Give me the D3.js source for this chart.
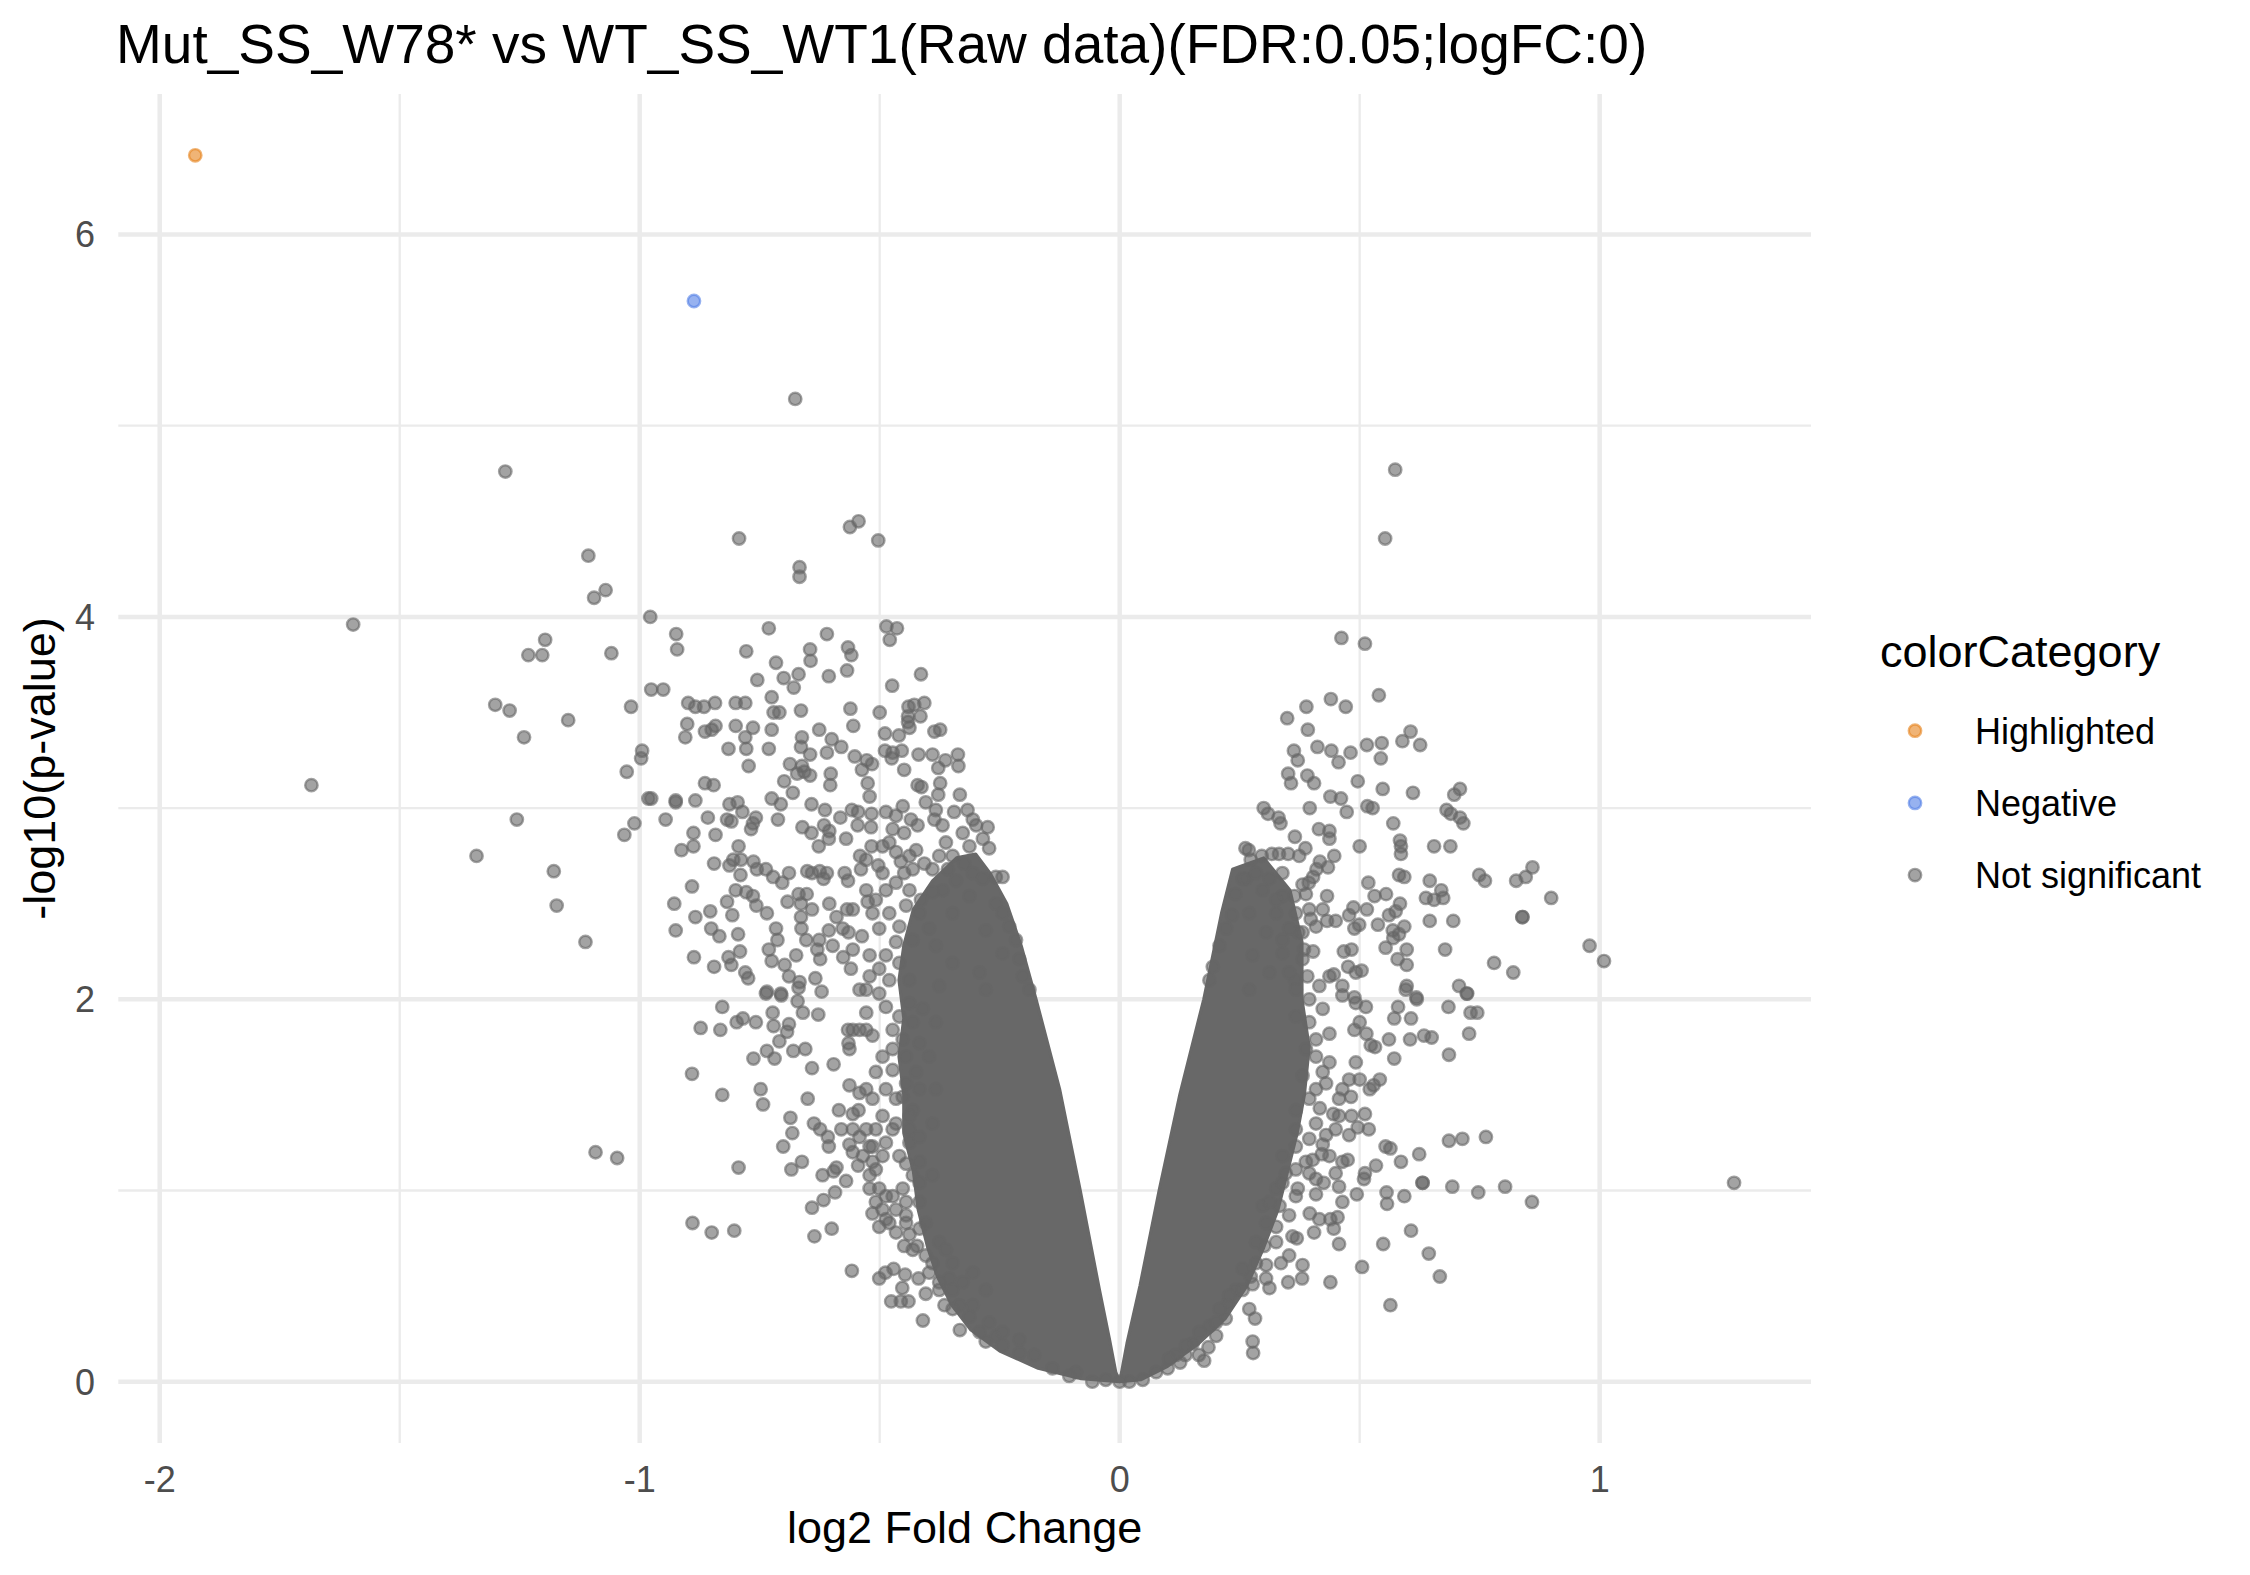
<!DOCTYPE html>
<html>
<head>
<meta charset="utf-8">
<script src="https://cdn.jsdelivr.net/npm/d3@7"></script>
<style>
    body { margin: 0; background: #fff; }
    text { font-family: "Liberation Sans", Arial, Helvetica, sans-serif; }
</style>
</head>
<body>
<svg id="chart" width="2250" height="1575"></svg>
<script>
// ---- data: [log2FC, -log10(p)] ----
const highlighted = [[-1.926, 6.414], [0.093, 0.236]];
const negative = [[-0.887, 5.652]];

// left arm of the volcano
const notSigLeft = [
    [-0.978,4.00],[-0.924,3.91],[-0.922,3.83],[-0.731,3.94],[-0.778,3.82],[-0.610,3.91],[-0.645,3.83],[-0.644,3.77],[-0.566,3.84],[-0.559,3.80],
    [-0.716,3.76],[-0.669,3.70],[-0.700,3.68],[-0.755,3.67],[-0.679,3.63],[-0.606,3.69],[-0.568,3.72],[-0.486,3.95],[-0.464,3.94],[-0.479,3.88],
    [-0.414,3.70],[-0.474,3.64],[-0.976,3.62],[-0.951,3.62],[-1.018,3.53],[-0.899,3.55],[-0.884,3.53],[-0.866,3.53],[-0.843,3.55],[-0.800,3.55],
    [-0.780,3.55],[-0.725,3.58],[-0.721,3.50],[-0.709,3.50],[-0.664,3.51],[-0.561,3.52],[-0.500,3.50],[-0.440,3.53],[-0.428,3.54],[-0.407,3.55],
    [-0.441,3.48],[-0.415,3.48],[-0.901,3.44],[-0.905,3.37],[-0.864,3.40],[-0.850,3.41],[-0.842,3.43],[-0.800,3.43],[-0.764,3.42],[-0.725,3.41],
    [-0.780,3.37],[-0.778,3.31],[-0.815,3.31],[-0.731,3.31],[-0.626,3.41],[-0.600,3.36],[-0.662,3.37],[-0.664,3.32],[-0.645,3.28],[-0.610,3.29],
    [-0.580,3.32],[-0.555,3.43],[-0.489,3.39],[-0.460,3.38],[-0.441,3.45],[-0.438,3.42],[-0.386,3.40],[-0.374,3.41],[-0.995,3.30],[-0.997,3.26],
    [-1.027,3.19],[-0.773,3.22],[-0.687,3.23],[-0.662,3.22],[-0.657,3.19],[-0.672,3.18],[-0.645,3.17],[-0.602,3.18],[-0.603,3.12],[-0.552,3.27],
    [-0.527,3.25],[-0.516,3.23],[-0.537,3.20],[-0.525,3.13],[-0.521,3.06],[-0.489,3.30],[-0.473,3.29],[-0.454,3.30],[-0.475,3.26],[-0.449,3.20],
    [-0.419,3.28],[-0.390,3.28],[-0.363,3.25],[-0.337,3.28],[-0.336,3.22],[-0.378,3.21],[-0.421,3.12],[-0.413,3.11],[-0.374,3.13],[-0.378,3.07],
    [-0.333,3.07],[-0.404,3.03],[-0.864,3.13],[-0.846,3.12],[-0.699,3.14],[-0.681,3.08],[-0.982,3.05],[-0.976,3.05],[-0.925,3.04],[-0.925,3.03],
    [-0.884,3.04],[-0.725,3.05],[-0.706,3.02],[-0.813,3.02],[-0.796,3.03],[-0.786,2.98],[-0.642,3.02],[-0.614,2.99],[-0.582,2.95],[-0.558,2.99],
    [-0.545,2.98],[-0.517,2.97],[-1.011,2.92],[-1.032,2.86],[-0.946,2.94],[-0.858,2.95],[-0.818,2.94],[-0.809,2.93],[-0.758,2.95],[-0.764,2.92],
    [-0.768,2.89],[-0.712,2.94],[-0.888,2.87],[-0.888,2.80],[-0.913,2.78],[-0.842,2.86],[-0.661,2.90],[-0.642,2.87],[-0.616,2.91],[-0.605,2.88],
    [-0.606,2.84],[-0.570,2.84],[-0.546,2.91],[-0.518,2.90],[-0.517,2.80],[-0.627,2.80],[-0.794,2.80],[-0.805,2.73],[-0.789,2.73],[-0.813,2.70],
    [-0.845,2.71],[-0.763,2.72],[-0.790,2.65],[-0.756,2.68],[-0.737,2.68],[-0.722,2.64],[-0.703,2.61],[-0.689,2.66],[-0.651,2.67],[-0.641,2.66],
    [-0.625,2.67],[-0.610,2.66],[-0.617,2.63],[-0.573,2.66],[-0.566,2.62],[-0.539,2.68],[-0.541,2.75],[-0.528,2.73],[-0.503,2.70],[-0.494,2.66],
    [-0.891,2.59],[-0.928,2.50],[-0.800,2.57],[-0.778,2.56],[-0.764,2.54],[-0.818,2.51],[-0.757,2.49],[-0.735,2.45],[-0.692,2.51],[-0.669,2.55],
    [-0.652,2.55],[-0.664,2.50],[-0.641,2.47],[-0.605,2.50],[-0.568,2.47],[-0.556,2.47],[-0.590,2.43],[-0.528,2.57],[-0.525,2.51],[-0.884,2.43],
    [-0.853,2.46],[-0.807,2.44],[-0.925,2.36],[-0.851,2.37],[-0.834,2.33],[-0.795,2.34],[-0.716,2.37],[-0.713,2.31],[-0.731,2.26],[-0.664,2.43],
    [-0.663,2.37],[-0.653,2.31],[-0.626,2.31],[-0.630,2.26],[-0.606,2.36],[-0.577,2.37],[-0.565,2.35],[-0.537,2.33],[-0.598,2.28],[-0.624,2.21],
    [-0.576,2.22],[-0.556,2.26],[-0.521,2.23],[-0.887,2.22],[-0.845,2.17],[-0.815,2.22],[-0.809,2.18],[-0.791,2.25],[-0.725,2.20],[-0.698,2.18],
    [-0.674,2.23],[-0.780,2.14],[-0.774,2.11],[-0.689,2.12],[-0.667,2.09],[-0.669,2.06],[-0.634,2.11],[-0.735,2.04],[-0.706,2.03],[-0.621,2.04],
    [-0.560,2.16],[-0.542,2.05],
    [-0.487,2.98],[-0.466,2.96],[-0.452,3.01],[-0.435,2.94],[-0.421,2.91],[-0.449,2.87],[-0.473,2.89],[-0.480,2.82],[-0.494,2.80],[-0.466,2.77],
    [-0.438,2.75],[-0.424,2.78],[-0.407,2.71],[-0.431,2.68],[-0.456,2.72],[-0.449,2.66],[-0.383,2.99],[-0.386,2.94],[-0.369,2.91],[-0.345,2.98],
    [-0.317,2.99],[-0.306,2.94],[-0.299,2.91],[-0.275,2.90],[-0.285,2.84],[-0.272,2.79],[-0.327,2.87],[-0.313,2.80],[-0.362,2.82],[-0.348,2.75],
    [-0.376,2.75],[-0.390,2.68],[-0.358,2.68],[-0.324,2.71],[-0.306,2.66],[-0.285,2.63],[-0.258,2.64],[-0.244,2.64],[-0.341,2.62],[-0.369,2.57],
    [-0.390,2.56],[-0.414,2.52],[-0.438,2.57],[-0.466,2.61],[-0.487,2.57],[-0.508,2.52],[-0.515,2.45],[-0.501,2.37],[-0.480,2.45],[-0.459,2.38],
    [-0.445,2.49],[-0.417,2.45],[-0.397,2.37],[-0.431,2.31],[-0.466,2.30],[-0.487,2.23],[-0.459,2.19],[-0.438,2.10],[-0.480,2.10],[-0.501,2.16],
    [-0.521,2.12],[-0.528,2.05],[-0.501,2.03],[-0.258,2.50],[-0.244,2.45],[-0.230,2.38],[-0.216,2.31],[-0.209,2.21],[-0.202,2.12],[-0.188,2.05],
    [-0.348,2.45],[-0.313,2.54],[-0.279,2.36],[-0.383,2.28],[-0.348,2.19],[-0.292,2.14],[-0.376,2.07],[-0.244,2.24],[-0.279,2.05],
    [-0.828,1.96],[-0.873,1.85],[-0.832,1.84],[-0.798,1.88],[-0.785,1.90],[-0.758,1.88],[-0.723,1.93],[-0.721,1.86],[-0.689,1.87],[-0.693,1.83],
    [-0.709,1.78],[-0.735,1.73],[-0.719,1.69],[-0.763,1.69],[-0.680,1.73],[-0.655,1.74],[-0.660,1.93],[-0.628,1.92],[-0.671,1.99],[-0.705,2.02],
    [-0.737,2.03],[-0.891,1.61],[-0.828,1.50],[-0.748,1.53],[-0.743,1.45],[-0.650,1.48],[-0.641,1.64],[-0.596,1.66],[-0.563,1.55],[-0.566,1.84],
    [-0.565,1.77],[-0.563,1.74],[-0.686,1.38],[-0.682,1.30],[-0.701,1.23],[-0.637,1.35],[-0.624,1.32],[-0.608,1.28],[-0.606,1.23],[-0.580,1.32],
    [-0.585,1.42],[-0.556,1.40],[-0.544,1.42],[-0.794,1.12],[-0.684,1.11],[-0.662,1.15],[-0.619,1.08],[-0.596,1.10],[-0.590,1.12],[-0.570,1.05],
    [-0.641,0.91],[-0.617,0.95],[-0.593,0.99],[-0.545,1.13],[-0.521,1.08],[-0.890,0.83],[-0.850,0.78],[-0.803,0.79],[-0.636,0.76],[-0.600,0.80],
    [-0.558,0.58],[-0.501,0.54],[-0.488,0.57],[-0.471,0.59],[-0.447,0.56],[-0.419,0.54],[-0.453,0.49],[-0.476,0.42],[-0.456,0.42],[-0.440,0.42],
    [-0.410,0.32],[-0.365,0.40],[-0.404,0.46],[-0.334,0.40],[-0.333,0.27],[-0.279,0.21],[-0.256,0.24],[-0.178,0.14],[-0.091,0.05],[-0.029,0.01],
    [-0.521,1.23],[-0.556,1.20],[-0.563,1.24],[-0.542,1.28],[-0.515,1.15],[-0.535,1.18],[-0.501,1.01],[-0.508,0.94],[-0.501,0.81],[-0.466,0.78],
    [-0.438,0.77],[-0.449,0.71],[-0.422,0.71],[-0.515,0.88],[-0.487,0.85],[-0.445,0.87],
    [-0.542,1.84],[-0.528,1.93],[-0.515,1.81],[-0.494,1.70],[-0.473,1.74],[-0.452,1.79],[-0.431,1.88],[-0.410,1.95],[-0.473,1.63],[-0.445,1.56],
    [-0.487,1.53],[-0.466,1.48],[-0.515,1.48],[-0.494,1.39],[-0.466,1.35],[-0.438,1.32],[-0.431,1.42],[-0.542,1.51],[-0.508,1.32],[-0.487,1.25],
    [-0.459,1.18],[-0.438,1.25],[-0.417,1.15],[-0.431,1.08],[-0.452,1.01],[-0.487,0.97],[-0.466,0.90],[-0.417,0.94],[-0.404,0.83],[-0.376,0.73],
    [-0.390,0.62],[-0.355,0.54],[-0.348,0.38],[-0.376,0.52],[-0.313,0.34],[-0.292,0.26],[-0.244,0.19],[-0.209,0.15],[-0.140,0.07],[-0.105,0.03],
    [-0.057,0.00],[-0.390,1.35],[-0.383,1.53],[-0.397,1.70],[-0.383,1.88],[-0.390,1.08],
    [-0.528,1.84],[-0.556,1.84],[-0.528,1.53],[-0.508,1.62],[-0.473,1.32],[-0.556,1.32],[-0.528,1.32],[-0.515,1.23],[-0.494,1.18],[-0.508,1.11],
    [-0.521,1.01],[-0.494,0.90],[-0.473,0.97],[-0.445,0.94],[-0.480,0.83],[-0.445,0.83],[-0.417,0.80],[-0.431,0.69],[-0.404,0.66],[-0.397,0.57],
    [-0.376,0.48],[-0.348,0.48],[-0.327,0.52],[-0.306,0.57],[-0.348,0.62],[-0.362,0.69],[-0.279,0.48],[-0.306,0.40],[-0.272,0.31],[-0.244,0.26],
    [-0.209,0.22],[-0.487,1.96],[-0.459,1.91],[-0.438,1.98],[-0.473,1.84],[-0.445,1.70],[-0.417,1.77],[-0.424,1.62],[-0.452,1.49],[-0.417,1.53],
    [-0.438,1.39],[-0.417,1.28],[-0.445,1.14],[-0.417,1.04]
];

// right arm of the volcano
const notSigRight = [
    [0.462,3.89],[0.511,3.86],[0.540,3.59],[0.440,3.57],[0.389,3.53],[0.471,3.53],[0.349,3.47],[0.392,3.41],[0.606,3.40],[0.589,3.35],
    [0.626,3.33],[0.546,3.34],[0.515,3.33],[0.412,3.32],[0.441,3.30],[0.481,3.29],[0.363,3.30],[0.371,3.25],[0.456,3.24],[0.544,3.26],
    [0.351,3.18],[0.391,3.17],[0.357,3.13],[0.405,3.13],[0.496,3.14],[0.548,3.10],[0.611,3.08],[0.709,3.10],[0.697,3.07],[0.439,3.06],
    [0.461,3.05],[0.300,3.00],[0.309,2.97],[0.331,2.95],[0.335,2.92],[0.396,3.00],[0.473,2.98],[0.516,3.01],[0.527,3.00],[0.681,2.99],
    [0.690,2.97],[0.709,2.95],[0.716,2.92],[0.570,2.92],[0.415,2.89],[0.437,2.88],[0.437,2.84],[0.365,2.85],[0.500,2.80],[0.584,2.83],
    [0.586,2.80],[0.586,2.76],[0.655,2.80],[0.689,2.80],[0.262,2.79],[0.269,2.78],[0.273,2.73],[0.296,2.75],[0.317,2.76],[0.332,2.76],
    [0.351,2.76],[0.374,2.75],[0.387,2.79],[0.417,2.72],[0.447,2.75],[0.434,2.69],[0.749,2.65],[0.761,2.62],[0.826,2.62],[0.846,2.64],
    [0.860,2.69],[0.899,2.53],[0.839,2.43],[0.839,2.43],[0.979,2.28],[1.009,2.20],[0.646,2.62],[0.582,2.65],[0.593,2.64],[0.518,2.61],
    [0.670,2.57],[0.674,2.53],[0.638,2.53],[0.655,2.52],[0.555,2.55],[0.531,2.54],[0.584,2.50],[0.575,2.46],[0.561,2.44],[0.646,2.41],
    [0.695,2.41],[0.538,2.39],[0.593,2.38],[0.569,2.36],[0.582,2.34],[0.570,2.32],[0.554,2.27],[0.598,2.26],[0.579,2.21],[0.598,2.18],
    [0.678,2.26],[0.780,2.19],[0.820,2.14],[0.598,2.07],[0.618,2.01],[0.707,2.07],[0.723,2.03],[0.432,2.54],[0.423,2.47],[0.395,2.47],
    [0.398,2.42],[0.409,2.38],[0.432,2.41],[0.450,2.41],[0.487,2.48],[0.515,2.47],[0.478,2.44],[0.489,2.37],[0.499,2.39],[0.372,2.35],
    [0.384,2.26],[0.403,2.25],[0.467,2.25],[0.483,2.26],[0.476,2.17],[0.492,2.14],[0.504,2.15],[0.437,2.12],[0.446,2.13],[0.464,2.07],
    [0.489,2.01],[0.464,2.02],[0.365,2.10],[0.391,2.12],[0.416,2.07],[0.381,2.21],[0.381,2.60],[0.403,2.64],[0.410,2.68],[0.394,2.61],
    [0.388,2.55],[0.364,2.54],[0.339,2.66],[0.263,2.63],[0.241,2.55],[0.234,2.44],
    [0.284,2.66],[0.312,2.63],[0.339,2.54],[0.326,2.45],[0.353,2.37],[0.339,2.24],[0.353,2.14],[0.367,2.05],[0.208,2.28],[0.222,2.37],
    [0.187,2.10],[0.194,2.17],
    [0.256,2.63],[0.298,2.57],[0.326,2.52],[0.270,2.45],[0.305,2.35],[0.339,2.31],[0.277,2.23],[0.312,2.14],[0.270,2.05],[0.367,2.45],
    [0.381,2.35],
    [0.580,1.96],[0.619,2.00],[0.596,2.05],[0.685,1.96],[0.724,2.03],[0.731,1.93],[0.745,1.93],[0.728,1.82],[0.686,1.71],[0.572,1.90],
    [0.607,1.90],[0.561,1.79],[0.605,1.79],[0.634,1.81],[0.650,1.80],[0.572,1.69],[0.513,1.96],[0.492,1.98],[0.500,1.88],
    [0.514,1.82],[0.523,1.76],[0.532,1.75],[0.492,1.67],[0.489,1.84],[0.478,1.58],[0.500,1.58],[0.542,1.58],[0.529,1.55],[0.521,1.53],
    [0.457,1.48],[0.482,1.49],[0.417,1.43],[0.445,1.40],[0.457,1.39],[0.483,1.39],[0.511,1.40],[0.496,1.33],[0.519,1.32],[0.478,1.29],
    [0.430,1.29],[0.423,1.24],[0.421,1.19],[0.686,1.26],[0.714,1.27],[0.763,1.28],[0.554,1.23],[0.564,1.22],[0.624,1.19],[0.586,1.15],
    [0.534,1.13],[0.511,1.09],[0.509,1.06],[0.475,1.16],[0.464,1.15],[0.450,1.09],[0.409,1.06],[0.425,1.04],[0.457,1.02],[0.631,1.04],
    [0.631,1.04],[0.693,1.02],[0.747,0.99],[0.803,1.02],[0.859,0.94],[0.556,0.99],[0.593,0.97],[0.557,0.93],[0.494,0.98],[0.464,0.94],
    [0.409,0.98],[0.396,0.88],[0.416,0.85],[0.439,0.85],[0.454,0.86],[0.405,0.78],[0.446,0.80],[0.607,0.79],[0.457,0.72],[0.549,0.72],
    [0.644,0.67],[0.505,0.60],[0.439,0.52],[0.667,0.55],[0.564,0.40],[0.360,0.76],[0.369,0.75],[0.353,0.66],[0.336,0.62],[0.381,0.61],
    [0.380,0.54],[0.351,0.52],[0.312,0.49],[0.305,0.54],[0.277,0.51],[0.273,0.55],[0.301,0.71],[0.326,0.81],[0.333,0.92],[0.270,0.38],
    [0.282,0.33],[0.277,0.21],[0.278,0.15],[0.225,0.41],[0.221,0.33],[0.201,0.24],[0.185,0.18],[0.176,0.11],[0.165,0.14],[0.137,0.14],
    [0.126,0.10],[0.100,0.07],[0.388,1.15],[0.371,1.01],
    [0.395,1.88],[0.423,1.95],[0.437,1.82],[0.409,1.70],[0.381,1.60],[0.430,1.56],[0.395,1.48],[0.367,1.32],[0.395,1.27],[0.339,1.18],
    [0.367,1.11],[0.326,1.01],[0.298,0.92],[0.339,1.04],[0.305,0.83],[0.284,0.73],[0.256,0.59],[0.242,0.48],[0.208,0.38],[0.187,0.29],
    [0.152,0.20],[0.117,0.14],[0.076,0.05],[0.048,0.01],[0.020,0.00],[0.000,0.00],
    [0.395,2.00],[0.367,1.91],[0.409,1.79],[0.437,1.67],[0.388,1.74],[0.423,1.62],[0.464,1.53],[0.409,1.53],[0.367,1.42],[0.409,1.35],
    [0.450,1.32],[0.367,1.23],[0.402,1.16],[0.437,1.18],[0.346,1.09],[0.395,1.09],[0.312,0.94],[0.367,0.97],[0.353,0.87],[0.326,0.73],
    [0.284,0.62],[0.305,0.61],[0.256,0.48],[0.228,0.45],[0.201,0.31],[0.166,0.26],[0.138,0.19],[0.103,0.12]
];

// isolated points far from the arms
const notSigOutliers = [
    [-0.676,5.14],[-1.280,4.76],[0.574,4.77],[0.553,4.41],[-1.107,4.32],[-1.095,4.10],[-1.071,4.14],[-1.597,3.96],[-1.197,3.88],[-1.232,3.80],
    [-1.203,3.80],[-1.059,3.81],[-1.301,3.54],[-1.271,3.51],[-1.241,3.37],[-1.149,3.46],[-1.684,3.12],[-1.256,2.94],[-1.340,2.75],[-1.179,2.67],
    [-1.173,2.49],[-1.113,2.30],[-1.092,1.20],[-1.047,1.17],[-0.544,4.50],[-0.562,4.47],[-0.503,4.40],[-0.793,4.41],[-0.667,4.26],[-0.667,4.21],
    [1.280,1.04]
];

// outlines of the saturated cores of both arms (too dense to tell points apart)
const leftCore = [
    [0,0.0],[-0.008,0.05],[-0.021,0.22],[-0.042,0.48],[-0.082,1.0],[-0.125,1.53],[-0.174,2.0],[-0.205,2.28],[-0.235,2.5],[-0.27,2.66],[-0.30,2.76],
    [-0.34,2.74],[-0.39,2.62],[-0.43,2.47],[-0.45,2.28],[-0.46,2.1],[-0.45,1.9],[-0.46,1.7],[-0.45,1.5],[-0.45,1.3],[-0.43,1.1],
    [-0.42,0.9],[-0.40,0.7],[-0.38,0.55],[-0.35,0.4],[-0.31,0.27],[-0.25,0.16],[-0.17,0.07],[-0.08,0.015]
];
const rightCore = [
    [0,0.0],[0.015,0.2],[0.042,0.5],[0.082,1.0],[0.125,1.5],[0.175,2.0],[0.212,2.45],[0.235,2.68],
    [0.30,2.74],[0.355,2.57],[0.38,2.3],[0.38,2.0],[0.395,1.75],[0.385,1.5],[0.37,1.3],[0.35,1.1],[0.33,0.9],
    [0.30,0.7],[0.265,0.5],[0.22,0.33],[0.165,0.2],[0.10,0.08],[0.045,0.01]
];

const xMajor = [-2, -1, 0, 1];
const xMinor = [-1.5, -0.5, 0.5];
const yMajor = [0, 2, 4, 6];
const yMinor = [1, 3, 5];
const categories = ["Highlighted", "Negative", "Not significant"];
const categoryColors = ["#e6821a", "#527ee6", "#666666"];

class VolcanoPlot {
    constructor() {
        this.svg = d3.select("#chart");
        this.left = 118.3;
        this.right = 1811;
        this.top = 94;
        this.bottom = 1443;
        this.radius = 6.2;

        let all = highlighted.concat(negative, notSigLeft, notSigRight, notSigOutliers);
        let xExt = d3.extent(all, d => d[0]);
        let yExt = d3.extent(all, d => d[1]);
        // ggplot-style 5% expansion
        let xPad = (xExt[1] - xExt[0]) * 0.05;
        let yPad = (yExt[1] - yExt[0]) * 0.05;

        this.x = d3.scaleLinear()
            .domain([xExt[0] - xPad, xExt[1] + xPad])
            .range([this.left, this.right]);
        this.y = d3.scaleLinear()
            .domain([yExt[0] - yPad, yExt[1] + yPad])
            .range([this.bottom, this.top]);
        this.color = d3.scaleOrdinal().domain(categories).range(categoryColors);

        this.drawGrid();
        this.drawPoints();
        this.drawAxes();
        this.drawLegend();
    }

    drawGrid() {
        let g = this.svg.append("g");
        g.selectAll(".vminor").data(xMinor).join("line")
            .attr("x1", d => this.x(d)).attr("x2", d => this.x(d))
            .attr("y1", this.top).attr("y2", this.bottom)
            .attr("stroke", "#ebebeb").attr("stroke-width", 2.3);
        g.selectAll(".hminor").data(yMinor).join("line")
            .attr("y1", d => this.y(d)).attr("y2", d => this.y(d))
            .attr("x1", this.left).attr("x2", this.right)
            .attr("stroke", "#ebebeb").attr("stroke-width", 2.3);
        g.selectAll(".vmajor").data(xMajor).join("line")
            .attr("x1", d => this.x(d)).attr("x2", d => this.x(d))
            .attr("y1", this.top).attr("y2", this.bottom)
            .attr("stroke", "#ebebeb").attr("stroke-width", 4.5);
        g.selectAll(".hmajor").data(yMajor).join("line")
            .attr("y1", d => this.y(d)).attr("y2", d => this.y(d))
            .attr("x1", this.left).attr("x2", this.right)
            .attr("stroke", "#ebebeb").attr("stroke-width", 4.5);
    }

    addPoints(g, data, cat) {
        let c = this.color(cat);
        g.selectAll(null).data(data).join("circle")
            .attr("cx", d => this.x(d[0]))
            .attr("cy", d => this.y(d[1]))
            .attr("r", this.radius)
            .attr("fill", c).attr("fill-opacity", 0.6)
            .attr("stroke", c).attr("stroke-opacity", 0.6)
            .attr("stroke-width", 2.4);
    }

    drawPoints() {
        let g = this.svg.append("g");
        this.addPoints(g, highlighted, "Highlighted");
        this.addPoints(g, negative, "Negative");

        let line = d3.line()
            .x(d => this.x(d[0]))
            .y(d => this.y(d[1]))
            .curve(d3.curveLinearClosed);
        g.selectAll(".core").data([leftCore, rightCore]).join("path")
            .attr("d", line)
            .attr("fill", "#686868")
            .attr("stroke", "#686868")
            .attr("stroke-width", 3)
            .attr("stroke-linejoin", "round");

        this.addPoints(g, notSigOutliers, "Not significant");
        this.addPoints(g, notSigLeft, "Not significant");
        this.addPoints(g, notSigRight, "Not significant");
    }

    drawAxes() {
        let g = this.svg.append("g");
        g.selectAll(".xt").data(xMajor).join("text")
            .attr("x", d => this.x(d))
            .attr("y", 1492)
            .attr("text-anchor", "middle")
            .attr("font-size", 36)
            .attr("fill", "#4d4d4d")
            .text(d => d);
        g.selectAll(".yt").data(yMajor).join("text")
            .attr("x", 95)
            .attr("y", d => this.y(d) + 13)
            .attr("text-anchor", "end")
            .attr("font-size", 36)
            .attr("fill", "#4d4d4d")
            .text(d => d);

        g.append("text")
            .attr("x", (this.left + this.right) / 2)
            .attr("y", 1543)
            .attr("text-anchor", "middle")
            .attr("font-size", 45)
            .text("log2 Fold Change");
        g.append("text")
            .attr("transform", `translate(55,${(this.top + this.bottom) / 2}) rotate(-90)`)
            .attr("text-anchor", "middle")
            .attr("font-size", 45)
            .text("-log10(p-value)");
        g.append("text")
            .attr("x", 116)
            .attr("y", 63)
            .attr("font-size", 55)
            .text("Mut_SS_W78* vs WT_SS_WT1(Raw data)(FDR:0.05;logFC:0)");
    }

    drawLegend() {
        let legend = this.svg.append("g");
        legend.append("text")
            .attr("x", 1880)
            .attr("y", 667)
            .attr("font-size", 45)
            .text("colorCategory");
        let keyY = (d, i) => 730.7 + i * 72.2;
        legend.selectAll("circle").data(categories).join("circle")
            .attr("cx", 1915)
            .attr("cy", keyY)
            .attr("r", this.radius)
            .attr("fill", d => this.color(d)).attr("fill-opacity", 0.6)
            .attr("stroke", d => this.color(d)).attr("stroke-opacity", 0.6)
            .attr("stroke-width", 2.4);
        legend.selectAll(".lab").data(categories).join("text")
            .attr("x", 1975)
            .attr("y", (d, i) => keyY(d, i) + 13)
            .attr("font-size", 36)
            .text(d => d);
    }
}

new VolcanoPlot();
</script>
</body>
</html>
